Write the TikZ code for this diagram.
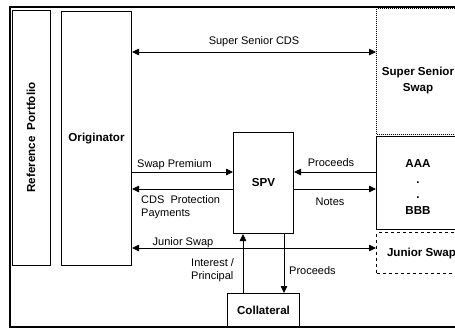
\documentclass[tikz,border=0pt]{standalone}
\usepackage{fontspec}
\setmainfont{Liberation Sans}
\usetikzlibrary{arrows.meta, positioning}

\begin{document}
\begin{tikzpicture}[
    x=1pt, y=-1pt,
    box/.style={rectangle, draw=black, line width=1pt, inner sep=0pt,
                anchor=north west, align=center,
                font=\fontsize{11.6}{15.5}\selectfont\bfseries},
    dotbox/.style={box, densely dotted},
    dashbox/.style={box, dashed},
    arrow/.style={-{Triangle[length=7pt, width=6.5pt]}, line width=0.8pt},
    dblarrow/.style={{Triangle[length=7pt, width=6.5pt]}-{Triangle[length=7pt, width=6.5pt]}, line width=0.8pt},
    lbl/.style={inner sep=0pt, align=left, font=\fontsize{11}{13}\selectfont}
]
\useasboundingbox (0,0) rectangle (455,330);
\clip (0,0) rectangle (455,330);

% Frame
\draw[line width=2pt] (10,7) rectangle (480,327);

% Left column
\node[box, minimum width=255pt, minimum height=38pt, rotate=90, anchor=center]
    (refport) at (31,137.5) {Reference\ \ Portfolio};
\node[box, minimum width=70pt, minimum height=254pt] (orig) at (61,11) {Originator};

% Middle
\node[box, minimum width=60pt, minimum height=101pt] (spv) at (233,132) {SPV};
\node[box, minimum width=72pt, minimum height=34pt] (coll) at (227,293) {Collateral};

% Right column (tranches)
\node[dotbox, minimum width=90pt, minimum height=126pt] (ssswap) at (376,8) {};
\node[font=\fontsize{11.6}{16}\selectfont\bfseries, align=center] at (418,80) {Super Senior\\Swap};
\node[box, minimum width=90pt, minimum height=93pt] (notes) at (376,136) {};
\node[font=\fontsize{11.6}{15.5}\selectfont\bfseries, align=center] at (418,187) {AAA\\.\\.\\BBB};
\node[dashbox, minimum width=90pt, minimum height=41pt] (jrswap) at (376,232) {Junior Swap};

% Rows for the flows
\coordinate (cdsrow) at (0,52);
\coordinate (toprow) at (0,172);
\coordinate (botrow) at (0,189);
\coordinate (jrrow) at (0,248);
\coordinate (upcol) at (243,0);
\coordinate (downcol) at (284,0);

% Arrows
\draw[dblarrow] (orig.east |- cdsrow) -- node[lbl, above=5pt] {Super Senior CDS} (ssswap.west |- cdsrow);
\draw[arrow] (orig.east |- toprow) -- (spv.west |- toprow);
\draw[arrow] (spv.west |- botrow) -- (orig.east |- botrow);
\draw[arrow] (notes.west |- toprow) -- (spv.east |- toprow);
\draw[arrow] (spv.east |- botrow) -- (notes.west |- botrow);
\draw[dblarrow] (orig.east |- jrrow) -- (jrswap.west |- jrrow);
\draw[arrow] (coll.north -| upcol) -- (spv.south -| upcol);
\draw[arrow] (spv.south -| downcol) -- (coll.north -| downcol);

% Labels
\node[lbl, anchor=base west] at (137,167) {Swap Premium};
\node[lbl, anchor=north west] at (141,195) {CDS\ \ Protection\\Payments};
\node[lbl, anchor=base] at (331,166) {Proceeds};
\node[lbl, anchor=base] at (330,205) {Notes};
\node[lbl, anchor=base] at (183,245) {Junior Swap};
\node[lbl, anchor=north west, align=left] at (191,258) {Interest /\\Principal};
\node[lbl, anchor=base west] at (289,274) {Proceeds};

\end{tikzpicture}
\end{document}
